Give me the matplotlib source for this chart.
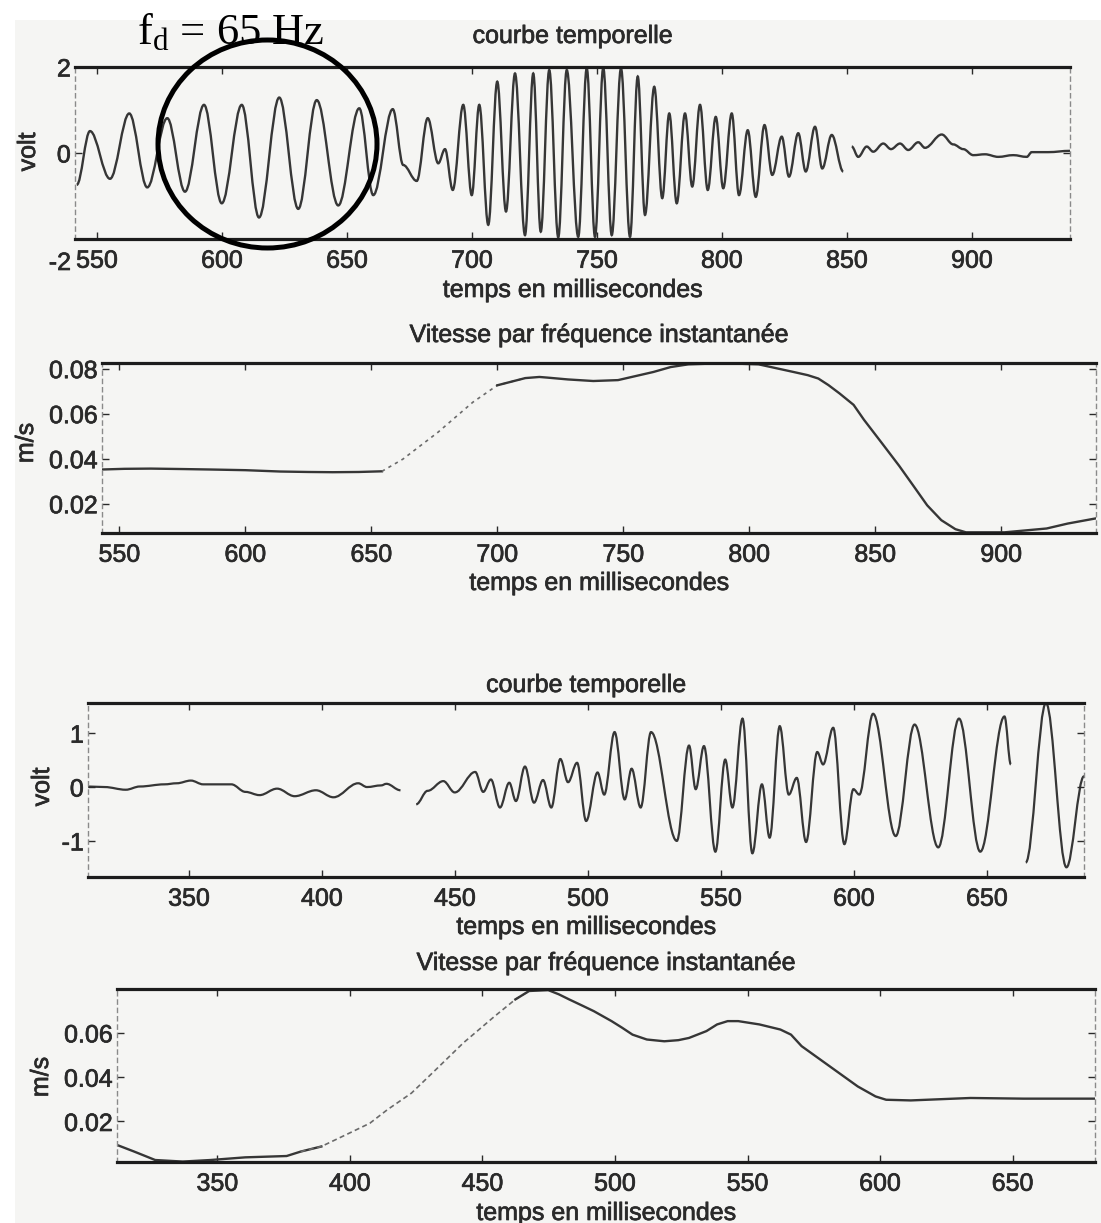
import numpy as np
import matplotlib
matplotlib.use("Agg")
import matplotlib.pyplot as plt
import matplotlib.patheffects as pe
from matplotlib.path import Path
from matplotlib.patches import PathPatch, Ellipse, Rectangle

nan = np.nan

# ---------------- data ----------------
# Panel 1: "courbe temporelle" (volt) - successive extrema of the trace
t_wave1 = [541.9, 547.2, 555.2, 562.9, 570.1, 578.1, 585.2, 592.8, 599.9, 607.9,
           614.8, 622.9, 630.5, 637.9, 646.5, 654.9, 660.5, 668.3, 672.5, 677.9,
           682.3, 686.5, 689.2, 692.3, 696.5, 699.9, 702.9, 706.5, 710.1, 713.6,
           717.2, 721.2, 724.5, 727.5, 730.9, 734.5, 737.9, 742.5, 745.9, 749.2,
           752.5, 755.9, 759.6, 763.2, 766.3, 769.2, 772.9, 776.1, 778.9, 781.9,
           785.2, 788.1, 791.2, 794.3, 797.5, 800.5, 803.9, 806.8, 810.3, 813.5,
           817.0, 820.1, 823.9, 826.8, 830.5, 833.5, 837.2, 840.1, 843.9, 848.5,
           nan,
           851.9, 854.5, 857.9, 860.5, 864.5, 867.6, 871.2, 874.5, 878.5, 881.2,
           887.9, 892.5, 896.5, 900.5, 905.2, 910.5, 916.5, 921.9, 923.9, 930.5, 939.2]
v_wave1 = [-0.74, 0.51, -0.60, 0.92, -0.80, 0.81, -0.90, 1.12, -1.17, 1.12,
           -1.50, 1.29, -1.30, 1.23, -1.22, 1.04, -0.98, 1.02, -0.28, -0.65,
           0.81, -0.24, 0.09, -0.86, 1.12, -0.98, 1.12, -1.67, 1.66, -1.36,
           1.85, -1.91, 1.85, -1.83, 1.93, -1.96, 1.93, -1.95, 1.97, -1.95,
           1.98, -1.91, 1.97, -1.95, 1.78, -1.44, 1.54, -1.05, 0.92, -1.17,
           0.92, -0.78, 1.12, -0.86, 0.84, -0.82, 0.92, -0.98, 0.53, -1.02,
           0.65, -0.51, 0.38, -0.55, 0.46, -0.43, 0.61, -0.36, 0.42, -0.43,
           nan,
           0.15, -0.09, 0.15, 0.03, 0.22, 0.09, 0.22, 0.07, 0.25, 0.12,
           0.43, 0.20, 0.09, -0.05, -0.03, -0.09, -0.05, -0.09, 0.02, 0.02, 0.05]

# Panel 2: "Vitesse par fréquence instantanée" (m/s)
t_speed1 = [543.1, 552, 562.5, 575, 586.1, 600, 613.9, 625, 634.7, 645, 654.2,
            662.5, 676.4, 690.3, 700, 711.1, 716.7, 720, 728, 738.1, 747.9,
            761.9, 768.8, 775.8, 789.7, 803.7, 817.6, 823.2, 827.4, 831.4, 835.8,
            841.4, 845.5, 852.5, 859.5, 865.1, 870.6, 876.2, 881.8, 886, 901.3,
            918, 926.4, 937.6]
v_speed1 = [0.0352, 0.0355, 0.0356, 0.0354, 0.0352, 0.0349, 0.0343, 0.0341, 0.0340,
            0.0341, 0.0344, 0.0398, 0.0517, 0.0651, 0.0726, 0.0758, 0.0763, 0.0760,
            0.0752, 0.0745, 0.0749, 0.0785, 0.0807, 0.0819, 0.0824, 0.0819, 0.0785,
            0.0771, 0.0756, 0.0727, 0.0690, 0.0639, 0.0573, 0.0471, 0.0368, 0.0280,
            0.0193, 0.0127, 0.0087, 0.0073, 0.0073, 0.0090, 0.0112, 0.0135]

# Panel 3: "courbe temporelle" (volt) - successive extrema of the trace
t_wave2 = [311.6, 318.2, 326.2, 331.5, 340.7, 345.4, 350.7, 355.3, 365.9, 371.2,
           376.5, 383.1, 389.7, 397.7, 404.3, 413.6, 416.9, 422.2, 424.2, 429.5,
           nan,
           435.4, 439.7, 445.6, 449.9, 457.6, 460.6, 463.5, 466.9, 470.4, 472.9,
           476.3, 479.7, 483.1, 486.2, 489.6, 492.5, 495.9, 499.3, 503.6, 506.1,
           510.0, 513.8, 516.4, 519.8, 523.7, 533.4, 538.0, 540.5, 543.6, 547.9,
           551.6, 554.3, 558.1, 561.8, 565.4, 568.3, 572.1, 575.5, 578.5, 582.0,
           586.2, 588.4, 592.2, 596.4, 599.8, 602.0, 607.2, 615.7, 622.8, 631.7,
           639.5, 647.5, 656.6, 659.0,
           nan,
           664.6, 672.2, 679.9, 686.5]
v_wave2 = [0.01, 0.0, -0.05, 0.01, 0.05, 0.07, 0.12, 0.05, 0.05, -0.09,
           -0.15, -0.03, -0.17, -0.06, -0.19, 0.07, 0.0, 0.03, 0.06, -0.06,
           nan,
           -0.32, -0.07, 0.11, -0.10, 0.28, -0.09, 0.14, -0.38, 0.08, -0.26,
           0.38, -0.29, 0.13, -0.38, 0.52, 0.09, 0.45, -0.63, 0.27, -0.14,
           1.02, -0.23, 0.34, -0.38, 1.02, -1.00, 0.77, -0.04, 0.76, -1.20,
           0.51, -0.38, 1.27, -1.23, 0.05, -0.94, 1.13, -0.14, 0.17, -1.02,
           0.65, 0.42, 1.10, -1.06, -0.04, -0.14, 1.36, -0.91, 1.16, -1.12,
           1.27, -1.20, 1.31, 0.42,
           nan,
           -1.40, 1.56, -1.49, 0.20]

# Panel 4: "Vitesse par fréquence instantanée" (m/s)
t_speed2 = [312.1, 318.6, 326.5, 336.9, 347.4, 360.5, 376.1, 381.4, 389.2, 399.7,
            407.5, 414.1, 423.2, 432.4, 442.8, 454.6, 462.4, 467.6, 474.8, 478.8,
            482.7, 488.0, 492.0, 498.7, 502.7, 506.6, 512.0, 518.6, 523.9, 527.9,
            534.5, 538.5, 542.5, 546.5, 554.5, 562.4, 566.4, 570.4, 581.0, 591.6,
            598.3, 602.3, 611.6, 634.1, 654.1, 681.0]
v_speed2 = [0.0094, 0.0064, 0.0026, 0.0019, 0.0026, 0.0038, 0.0044, 0.0064, 0.0087,
            0.0147, 0.0192, 0.0253, 0.0328, 0.0434, 0.0555, 0.0675, 0.0751, 0.0789,
            0.0793, 0.0774, 0.0751, 0.0721, 0.0698, 0.0653, 0.0623, 0.0592, 0.0570,
            0.0562, 0.0567, 0.0577, 0.0608, 0.0638, 0.0653, 0.0653, 0.0638, 0.0615,
            0.0592, 0.0540, 0.0449, 0.0358, 0.0313, 0.0298, 0.0295, 0.0306, 0.0303,
            0.0303]

xticks_1 = [550, 600, 650, 700, 750, 800, 850, 900]
xticks_2 = [350, 400, 450, 500, 550, 600, 650]
yticks_volt1 = [0, 2]
yticks_volt2 = [-1, 0, 1]
yticks_speed1 = [0.02, 0.04, 0.06, 0.08]
yticks_speed2 = [0.02, 0.04, 0.06]

title_time = "courbe temporelle"
title_speed = "Vitesse par fréquence instantanée"
xlabel = "temps en millisecondes"
annotation = r"f$_{\mathrm{d}}$ = 65 Hz"

# ---------------- style ----------------
W, H = 1101, 1223
BG = "#f5f5f3"
INK = "#2a2a2a"
LINE = "#363636"
FS = 18
plt.rcParams["font.family"] = ["Liberation Sans", "DejaVu Sans"]
plt.rcParams["mathtext.fontset"] = "custom"
plt.rcParams["mathtext.rm"] = "Liberation Serif"
plt.rcParams["mathtext.it"] = "Liberation Serif:italic"

HEAVY = [pe.withStroke(linewidth=0.5, foreground=INK)]

fig = plt.figure(figsize=(W / 100, H / 100), dpi=100, facecolor=BG)


def px_axes(left, top, right, bottom):
    return fig.add_axes([left / W, 1 - bottom / H, (right - left) / W, (bottom - top) / H])


def smooth_path(ts, vs, k=0.36):
    verts, codes = [], []
    start, prev = True, None
    for t, v in zip(ts, vs):
        if np.isnan(t):
            start = True
            continue
        if start:
            verts.append((t, v)); codes.append(Path.MOVETO)
            start = False
        else:
            dt = t - prev[0]
            verts += [(prev[0] + k * dt, prev[1]), (t - k * dt, v), (t, v)]
            codes += [Path.CURVE4] * 3
        prev = (t, v)
    return Path(verts, codes)


def style_axes(ax, xlim, ylim, xticks, yticks, ylabels, ylab_xy, title, title_dy, xlab_dy, ylabel):
    ax.set_facecolor("none")
    ax.set_xlim(*xlim)
    ax.set_ylim(*ylim)
    ax.set_xticks(xticks)
    ax.set_xticklabels([str(x) for x in xticks])
    ax.set_yticks(yticks)
    ax.set_yticklabels(ylabels)
    ax.tick_params(direction="in", length=5, width=1, colors=INK, labelsize=FS,
                   top=True, right=True)
    ax.tick_params(axis="x", pad=7)
    ax.tick_params(axis="y", pad=3)
    for lbl in ax.get_xticklabels() + ax.get_yticklabels():
        lbl.set_path_effects(HEAVY)
    for s in ("top", "bottom"):
        ax.spines[s].set_linewidth(2.3)
        ax.spines[s].set_color("#1c1c1c")
    for s in ("left", "right"):
        ax.spines[s].set_linewidth(1.0)
        ax.spines[s].set_color("#8a8a8a")
        ax.spines[s].set_linestyle((0, (3, 3)))
    hpx = ax.get_position().height * H
    ax.text(0.5, 1 + title_dy / hpx, title, transform=ax.transAxes, ha="center",
            va="center", fontsize=FS, color=INK, path_effects=HEAVY)
    ax.text(0.5, -xlab_dy / hpx, xlabel, transform=ax.transAxes,
            ha="center", va="center", fontsize=FS, color=INK, path_effects=HEAVY)
    fig.text(ylab_xy[0] / W, 1 - ylab_xy[1] / H, ylabel, rotation=90,
             ha="center", va="center", fontsize=FS, color=INK, path_effects=HEAVY)


# Panel 1
ax1 = px_axes(75, 67, 1070, 239)
style_axes(ax1, (541.2, 939.2), (-2, 2), xticks_1, yticks_volt1, ["0", "2"],
           (28, 152), title_time, 31, 51, "volt")
ax1.add_patch(PathPatch(smooth_path(t_wave1, v_wave1), fill=False, ec=LINE, lw=1.7))
ax1.text(-0.004, -24 / 172, "-2", transform=ax1.transAxes, ha="right", va="center",
         fontsize=FS, color=INK, path_effects=HEAVY)

# Panel 2
ax2 = px_axes(102, 363, 1096, 533)
style_axes(ax2, (543.1, 937.6), (0.007, 0.0825), xticks_1, yticks_speed1,
           ["0.02", "0.04", "0.06", "0.08"], (26, 443), title_speed, 28, 50, "m/s")
t1a = np.array(t_speed1); v1a = np.array(v_speed1)
ax2.plot(t1a[t1a <= 654.2], v1a[t1a <= 654.2], color=LINE, lw=1.7)
m1 = (t1a >= 654.2) & (t1a <= 711.1)
ax2.plot(t1a[m1], v1a[m1], color="#6a6a6a", lw=1.2, ls=(0, (2, 2.5)))
ax2.plot(t1a[t1a >= 700], v1a[t1a >= 700], color=LINE, lw=1.7)

# Panel 3
ax3 = px_axes(88, 703, 1084, 877)
style_axes(ax3, (312.0, 686.5), (-1.67, 1.56), xticks_2, yticks_volt2, ["-1", "0", "1"],
           (42, 787), title_time, 18, 50, "volt")
ax3.add_patch(PathPatch(smooth_path(t_wave2, v_wave2), fill=False, ec=LINE, lw=1.6))

# Panel 4
ax4 = px_axes(117, 989, 1095, 1162)
style_axes(ax4, (312.1, 681.1), (0.0017, 0.0798), xticks_2, yticks_speed2,
           ["0.02", "0.04", "0.06"], (41, 1077), title_speed, 26, 51, "m/s")
t2a = np.array(t_speed2); v2a = np.array(v_speed2)
ax4.plot(t2a[t2a <= 389.2], v2a[t2a <= 389.2], color=LINE, lw=1.7)
m2 = (t2a >= 381.4) & (t2a <= 468)
ax4.plot(t2a[m2], v2a[m2], color="#6a6a6a", lw=1.2, ls=(0, (3, 2)))
ax4.plot(t2a[t2a >= 462.4], v2a[t2a >= 462.4], color=LINE, lw=1.7)

# scan margins
fig.add_artist(Rectangle((0, 1 - 20 / H), 1, 20 / H, transform=fig.transFigure,
                         fc="white", ec="none", zorder=-5))
fig.add_artist(Rectangle((0, 0), 15 / W, 1, transform=fig.transFigure,
                         fc="white", ec="none", zorder=-5))

# annotation
fig.text(137 / W, 1 - 44 / H, annotation, fontsize=32, color="black",
         family="Liberation Serif", ha="left", va="baseline", zorder=20)
fig.add_artist(Ellipse((267.5 / W, 1 - 144 / H), 219 / W, 208 / H,
                       transform=fig.transFigure, fill=False, ec="black", lw=3.6, zorder=20))

fig.savefig("out.png", dpi=100, facecolor=BG)
